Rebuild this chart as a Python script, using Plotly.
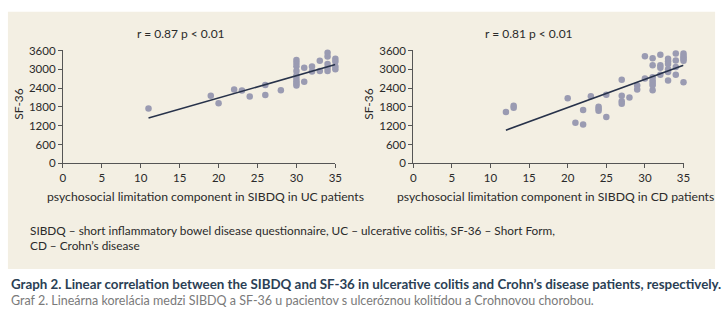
import plotly.graph_objects as go

# ---- data ----
uc_x = [11, 19, 20, 22, 23, 24, 26, 26, 28,
        30, 30, 30, 30, 30, 30, 30, 30, 30,
        31, 31, 32, 32, 33, 33,
        34, 34, 34, 34, 34, 35, 35, 35, 35]
uc_y = [1750, 2160, 1920, 2355, 2325, 2130, 2500, 2180, 2335,
        3300, 3200, 3100, 2950, 2800, 2700, 2620, 2550, 2480,
        3050, 2600, 3090, 2930, 3270, 2950,
        3530, 3410, 3170, 3050, 2950, 3340, 3250, 3090, 3000]
uc_line_x = [11, 35]
uc_line_y = [1450, 3150]

cd_x = [12, 13, 13, 20, 21, 22, 22, 23, 24, 24, 24, 25, 25,
        27, 27, 27, 27, 28, 29, 29, 30, 30,
        31, 31, 31, 31, 31, 31, 31,
        32, 32, 32, 32,
        33, 33, 33, 33, 33, 33,
        34, 34, 34, 34,
        35, 35, 35, 35, 35, 35]
cd_y = [1640, 1840, 1775, 2080, 1295, 1705, 1245, 2140, 1805, 1745, 1680, 2190, 1480,
        2670, 2160, 1980, 1905, 2100, 2480, 2355, 3415, 2710,
        3355, 3130, 2745, 2640, 2560, 2490, 2335,
        3465, 3130, 3050, 2825,
        3335, 3260, 3170, 3005, 2915, 2640,
        3500, 3280, 3070, 2825,
        3500, 3435, 3375, 3330, 3270, 2590]
cd_line_x = [12, 35]
cd_line_y = [1060, 3130]

x_ticks = [0, 5, 10, 15, 20, 25, 30, 35]
y_ticks = [0, 600, 1200, 1800, 2400, 3000, 3600]

r_labels = ["r = 0.87 p < 0.01", "r = 0.81 p < 0.01"]
x_titles = ["psychosocial limitation component in SIBDQ in UC patients",
            "psychosocial limitation component in SIBDQ in CD patients"]
y_title = "SF-36"
footnote = ("SIBDQ – short inflammatory bowel disease questionnaire, UC – ulcerative colitis, "
            "SF-36 – Short Form,<br>CD – Crohn’s disease")
caption_en = ("Graph 2. Linear correlation between the SIBDQ and SF-36 in ulcerative colitis "
              "and Crohn’s disease patients, respectively.")
caption_sk = ("Graf 2. Lineárna korelácia medzi SIBDQ a SF-36 u pacientov s ulceróznou "
              "kolitídou a Crohnovou chorobou.")

# ---- style ----
W, H = 727, 323
BG = "#f3efe3"
MARK = "#9a9bb2"
LINE = "#27324a"
FONT = "Lato"
TXT = "#2a2a2a"

def px(x):
    return x / W

def py(y):
    return 1 - y / H

fig = go.Figure()
fig.add_trace(go.Scatter(x=uc_x, y=uc_y, mode="markers",
                         marker=dict(color=MARK, size=6.5), xaxis="x", yaxis="y",
                         showlegend=False, cliponaxis=False))
fig.add_trace(go.Scatter(x=uc_line_x, y=uc_line_y, mode="lines",
                         line=dict(color=LINE, width=1.6), xaxis="x", yaxis="y",
                         showlegend=False))
fig.add_trace(go.Scatter(x=cd_x, y=cd_y, mode="markers",
                         marker=dict(color=MARK, size=6.5), xaxis="x2", yaxis="y2",
                         showlegend=False, cliponaxis=False))
fig.add_trace(go.Scatter(x=cd_line_x, y=cd_line_y, mode="lines",
                         line=dict(color=LINE, width=1.6), xaxis="x2", yaxis="y2",
                         showlegend=False))

axis_common = dict(showgrid=False, zeroline=False, showline=True, linecolor="#555",
                   linewidth=1, ticks="outside", ticklen=4, tickcolor="#555",
                   tickfont=dict(family=FONT, size=11.5, color=TXT))

ydom = [py(163), py(45.3)]
fig.update_layout(
    width=W, height=H,
    margin=dict(l=0, r=0, t=0, b=0),
    paper_bgcolor="white", plot_bgcolor="rgba(0,0,0,0)",
    font=dict(family=FONT, size=12, color=TXT),
    xaxis=dict(domain=[px(60.7), px(337)], range=[0, 35], tickvals=x_ticks,
               anchor="y", **axis_common),
    yaxis=dict(domain=ydom, range=[0, 3600], tickvals=y_ticks,
               anchor="x", **axis_common),
    xaxis2=dict(domain=[px(416), px(690)], range=[0, 35], tickvals=x_ticks,
                anchor="y2", **axis_common),
    yaxis2=dict(domain=ydom, range=[0, 3600], tickvals=y_ticks,
                anchor="x2", **axis_common),
)

fig.add_shape(type="rect", xref="paper", yref="paper",
              x0=px(5), x1=px(722), y0=py(273), y1=py(5),
              fillcolor=BG, line=dict(width=0), layer="below")

ann = []
for cx, lab in zip([180, 533], r_labels):
    ann.append(dict(x=px(cx), y=py(28), xref="paper", yref="paper", text=lab,
                    showarrow=False, xanchor="center", yanchor="middle",
                    font=dict(family=FONT, size=12, color=TXT)))
for cx, lab in zip([205, 560], x_titles):
    ann.append(dict(x=px(cx), y=py(197), xref="paper", yref="paper", text=lab,
                    showarrow=False, xanchor="center", yanchor="middle",
                    font=dict(family=FONT, size=12.2, color=TXT)))
for cx in [16, 371]:
    ann.append(dict(x=px(cx), y=py(101), xref="paper", yref="paper", text=y_title,
                    showarrow=False, xanchor="center", yanchor="middle", textangle=-90,
                    font=dict(family=FONT, size=12, color=TXT)))
ann.append(dict(x=px(25), y=py(241), xref="paper", yref="paper", text=footnote,
                showarrow=False, xanchor="left", yanchor="middle", align="left",
                font=dict(family=FONT, size=11.8, color=TXT)))
ann.append(dict(x=px(6), y=py(289), xref="paper", yref="paper",
                text="<b>" + caption_en + "</b>",
                showarrow=False, xanchor="left", yanchor="middle",
                font=dict(family=FONT, size=13.35, color="#2b3f55")))
ann.append(dict(x=px(6), y=py(306), xref="paper", yref="paper", text=caption_sk,
                showarrow=False, xanchor="left", yanchor="middle",
                font=dict(family=FONT, size=12.5, color="#7a7a7a")))
fig.update_layout(annotations=ann)

fig.write_html("out.html")
